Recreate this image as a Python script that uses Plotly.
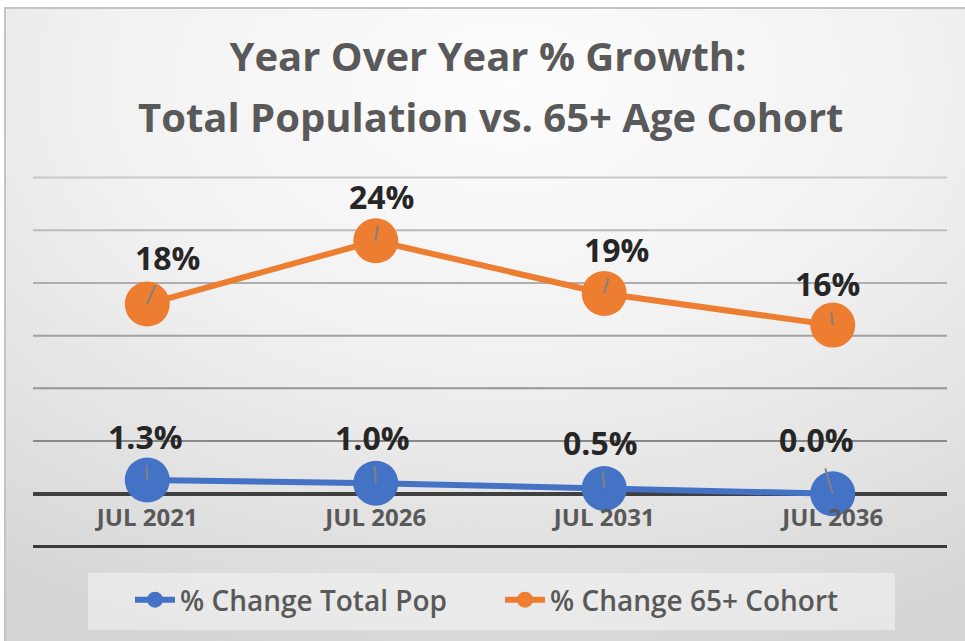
import base64
import plotly.graph_objects as go

# ---- data -------------------------------------------------------------
periods = ["JUL 2021", "JUL 2026", "JUL 2031", "JUL 2036"]
total_pop_change = [1.3, 1.0, 0.5, 0.0]      # % change, total population
cohort_65_change = [18, 24, 19, 16]          # % change, 65+ cohort
grid_values = [5, 10, 15, 20, 25, 30]        # horizontal gridlines (%)
axis_floor = -5                              # lowest gridline (%)

# ---- layout geometry --------------------------------------------------
W, H = 965, 641
ML, MR, MT, MB = 33, 18, 176, 93
Y_RANGE = [-5.15, 30.15]
plot_w = W - ML - MR
plot_h = H - MT - MB


def paper_x(px):
    return (px - ML) / plot_w


def paper_y(py):
    return (H - MB - py) / plot_h


ORANGE = "#ED7D31"
BLUE = "#4472C4"
TEXT_DARK = "#262626"
TEXT_GRAY = "#595959"
FONT = "Open Sans"

# offsets (px) of each data label from its marker
orange_label_offsets = [(20, -47), (6, -44), (12, -44), (-5, -42)]
blue_label_offsets = [(-2, -44), (-3, -46), (-4, -46), (-16, -54)]

fig = go.Figure()

fig.add_trace(go.Scatter(
    x=periods, y=total_pop_change, name="% Change Total Pop",
    mode="lines+markers",
    line=dict(color=BLUE, width=6),
    marker=dict(color=BLUE, size=45),
))
fig.add_trace(go.Scatter(
    x=periods, y=cohort_65_change, name="% Change 65+ Cohort",
    mode="lines+markers",
    line=dict(color=ORANGE, width=6),
    marker=dict(color=ORANGE, size=45),
))

# data labels with short leader lines
annotations = []
for vals, offs, fmt in ((cohort_65_change, orange_label_offsets, "{:.0f}%"),
                        (total_pop_change, blue_label_offsets, "{:.1f}%")):
    for cat, v, (dx, dy) in zip(periods, vals, offs):
        annotations.append(dict(
            x=cat, y=v, xref="x", yref="y", text=fmt.format(v),
            showarrow=True, ax=dx, ay=dy, arrowhead=0, arrowwidth=2,
            arrowcolor="#808080", standoff=0, startstandoff=6,
            font=dict(family=FONT, size=32, color=TEXT_DARK, weight=700),
        ))

# second title line
annotations.append(dict(
    x=paper_x(490), y=paper_y(117), xref="paper", yref="paper",
    text="Total Population vs. 65+ Age Cohort", showarrow=False,
    xanchor="center", yanchor="middle",
    font=dict(family=FONT, size=40, color=TEXT_GRAY, weight=700),
))

# gridlines, shading darker toward the bottom
shapes = []
n = len(grid_values)
for i, gv in enumerate(sorted(grid_values, reverse=True)):
    t = i / max(n - 1, 1)
    g = int(round(200 - t * 64))
    shapes.append(dict(
        type="line", xref="paper", yref="y", x0=0, x1=1, y0=gv, y1=gv,
        line=dict(color=f"rgb({g},{g},{g})", width=2), layer="below",
    ))
shapes.append(dict(
    type="line", xref="paper", yref="y", x0=0, x1=1, y0=axis_floor, y1=axis_floor,
    line=dict(color="#3a3a3a", width=3), layer="below",
))
# legend panel
shapes.append(dict(
    type="rect", xref="paper", yref="paper",
    x0=paper_x(88), x1=paper_x(895), y0=paper_y(630), y1=paper_y(573),
    fillcolor="rgba(246,246,246,0.55)", line=dict(width=0), layer="below",
))
# chart frame
shapes.append(dict(
    type="rect", xref="paper", yref="paper",
    x0=paper_x(5), x1=paper_x(980), y0=paper_y(660), y1=paper_y(8),
    fillcolor="rgba(0,0,0,0)", line=dict(color="#c4c4c4", width=2),
))

# soft radial background for the chart area
svg = (
    '<svg xmlns="http://www.w3.org/2000/svg" width="960" height="633" '
    'viewBox="0 0 960 633" preserveAspectRatio="none">'
    '<defs><radialGradient id="g" cx="52%" cy="12%" r="95%" fx="52%" fy="12%">'
    '<stop offset="0%" stop-color="#fdfdfd"/>'
    '<stop offset="45%" stop-color="#f1f1f1"/>'
    '<stop offset="100%" stop-color="#d4d4d4"/>'
    '</radialGradient></defs>'
    '<rect width="960" height="633" fill="url(#g)"/></svg>'
)
bg_src = "data:image/svg+xml;base64," + base64.b64encode(svg.encode()).decode()

zero_pos = (0 - Y_RANGE[0]) / (Y_RANGE[1] - Y_RANGE[0])

fig.update_layout(
    width=W, height=H,
    margin=dict(l=ML, r=MR, t=MT, b=MB),
    paper_bgcolor="white",
    plot_bgcolor="rgba(0,0,0,0)",
    title=dict(
        text="Year Over Year % Growth:",
        x=paper_x(488) * plot_w / W + ML / W, xanchor="center",
        y=1 - 57 / H, yanchor="middle",
        font=dict(family=FONT, size=40, color=TEXT_GRAY, weight=700),
    ),
    xaxis=dict(
        type="category", range=[-0.5, len(periods) - 0.5],
        anchor="free", position=zero_pos,
        showgrid=False, zeroline=False, showline=False, ticks="",
        ticklabelstandoff=7,
        tickfont=dict(family=FONT, size=24, color=TEXT_GRAY, weight=700),
        fixedrange=True,
    ),
    yaxis=dict(
        range=Y_RANGE, dtick=5, showgrid=False, showticklabels=False,
        zeroline=True, zerolinecolor="#404040", zerolinewidth=4,
        fixedrange=True,
    ),
    legend=dict(
        orientation="h", x=paper_x(500), xanchor="center",
        y=paper_y(600), yanchor="middle",
        bgcolor="rgba(0,0,0,0)",
        font=dict(family=FONT, size=28, color=TEXT_GRAY, weight=600),
        itemwidth=40, entrywidth=315,
    ),
    images=[dict(
        source=bg_src, xref="paper", yref="paper",
        x=paper_x(5), y=paper_y(8), sizex=(W + 10 - 5) / plot_w,
        sizey=(H + 10 - 8) / plot_h, xanchor="left", yanchor="top",
        sizing="stretch", layer="below",
    )],
    shapes=shapes,
    annotations=annotations,
    showlegend=True,
)

fig.write_html("out.html")
